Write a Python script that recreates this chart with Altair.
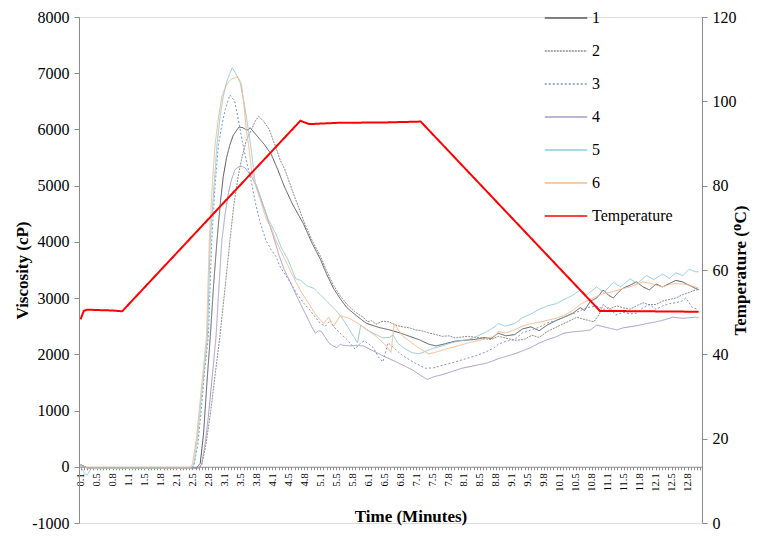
import json
import altair as alt
import pandas as pd

# ---------------- data ----------------
SERIES = ["1", "2", "3", "4", "5", "6"]
COLORS = ["#595959", "#8c8c8c", "#7a96c8", "#a99bc9", "#8fcbdc", "#f7b98a"]
DASHES = [[1, 0], [2, 1], [2, 2], [1, 0], [1, 0], [1, 0]]

S1 = [(0.133, 40), (0.27, -20), (2.55, -20), (2.63, 60), (2.70, 600), (2.77, 1500), (2.84, 2320),
      (2.91, 3250), (2.98, 4030), (3.05, 4700), (3.11, 5160), (3.18, 5500), (3.25, 5730), (3.32, 5900),
      (3.44, 6045), (3.52, 6030), (3.58, 6000), (3.63, 5990), (3.67, 6030), (3.75, 5950), (3.85, 5850),
      (3.97, 5730), (4.11, 5560), (4.25, 5280), (4.38, 4995), (4.55, 4680), (4.79, 4310), (4.95, 4000),
      (5.14, 3685), (5.27, 3420), (5.41, 3175), (5.55, 2990), (5.69, 2830), (5.9, 2680), (6.1, 2550),
      (6.35, 2480), (6.58, 2435), (6.8, 2380), (7.0, 2320), (7.2, 2260), (7.4, 2180), (7.55, 2150),
      (7.75, 2190), (7.95, 2235), (8.15, 2250), (8.36, 2265), (8.55, 2300), (8.7, 2280), (8.85, 2376),
      (9.0, 2330), (9.19, 2350), (9.35, 2450), (9.53, 2490), (9.7, 2420), (9.87, 2520), (10.05, 2600),
      (10.22, 2660), (10.4, 2730), (10.56, 2830), (10.65, 2780), (10.77, 2946), (10.9, 3000),
      (11.04, 3145), (11.15, 3050), (11.25, 3003), (11.35, 3100), (11.45, 3175), (11.6, 3230),
      (11.73, 3290), (11.87, 3200), (12.0, 3145), (12.14, 3250), (12.28, 3200), (12.42, 3260),
      (12.55, 3315), (12.69, 3290), (12.83, 3230), (12.96, 3175), (13.03, 3150)]

S2 = [(0.133, 20), (0.27, -20), (2.6, -20), (2.66, 30), (2.75, 400), (2.85, 1000), (2.95, 1700),
      (3.04, 2320), (3.15, 3200), (3.25, 4030), (3.33, 4650), (3.42, 5160), (3.5, 5500), (3.59, 5800),
      (3.70, 6000), (3.78, 6150), (3.85, 6232), (3.95, 6150), (4.07, 6000), (4.2, 5700), (4.3, 5450),
      (4.4, 5277), (4.6, 4800), (4.79, 4370), (4.95, 4050), (5.14, 3740), (5.27, 3480), (5.41, 3230),
      (5.55, 3040), (5.69, 2890), (5.85, 2760), (6.03, 2660), (6.12, 2580), (6.2, 2600), (6.3, 2540),
      (6.45, 2590), (6.58, 2576), (6.7, 2520), (6.85, 2490), (7.0, 2470), (7.13, 2434), (7.25, 2420),
      (7.4, 2380), (7.55, 2350), (7.68, 2320), (7.82, 2330), (7.95, 2290), (8.1, 2310), (8.23, 2320),
      (8.4, 2300), (8.55, 2280), (8.7, 2264), (8.85, 2320), (9.0, 2290), (9.2, 2250), (9.39, 2264),
      (9.55, 2340), (9.7, 2300), (9.87, 2405), (10.05, 2480), (10.22, 2547), (10.35, 2600),
      (10.49, 2661), (10.6, 2630), (10.75, 2600), (10.84, 2576), (10.95, 2700), (11.04, 2888),
      (11.15, 2800), (11.32, 2861), (11.45, 2830), (11.6, 2803), (11.75, 2870), (11.87, 2917),
      (12.0, 2880), (12.14, 2888), (12.28, 2950), (12.42, 2974), (12.55, 3000), (12.69, 3059),
      (12.83, 3100), (12.96, 3144), (13.03, 3150)]

S3 = [(0.133, 30), (0.27, -20), (2.45, -20), (2.5, 30), (2.58, 400), (2.65, 1000), (2.72, 1700),
      (2.80, 2320), (2.87, 4030), (2.94, 5000), (3.01, 5730), (3.08, 6070), (3.15, 6350), (3.25, 6614),
      (3.35, 6500), (3.43, 6150), (3.52, 5730), (3.61, 5380), (3.70, 5050), (3.78, 4700), (3.87, 4370),
      (4.0, 4030), (4.11, 3860), (4.21, 3740), (4.3, 3550), (4.42, 3400), (4.55, 3220), (4.66, 3060),
      (4.8, 2900), (4.93, 2776), (5.03, 2660), (5.14, 2547), (5.24, 2500), (5.34, 2605), (5.41, 2500),
      (5.48, 2434), (5.58, 2350), (5.69, 2264), (5.78, 2180), (5.86, 2093), (5.95, 2180), (6.05, 2240),
      (6.15, 2180), (6.24, 2121), (6.35, 1950), (6.44, 1865), (6.55, 2206), (6.7, 2090), (6.85, 1979),
      (7.0, 1900), (7.13, 1837), (7.33, 1752), (7.5, 1760), (7.7, 1810), (7.95, 1865), (8.2, 1930),
      (8.4, 1980), (8.57, 2035), (8.75, 2110), (8.85, 2180), (9.0, 2230), (9.19, 2264), (9.35, 2380),
      (9.53, 2434), (9.7, 2480), (9.87, 2560), (10.05, 2600), (10.22, 2661), (10.4, 2720),
      (10.56, 2776), (10.7, 2830), (10.9, 2861), (11.05, 2800), (11.17, 2832), (11.3, 2700),
      (11.45, 2747), (11.6, 2720), (11.73, 2730), (11.87, 2830), (12.0, 2888), (12.14, 2800),
      (12.28, 2861), (12.42, 2900), (12.55, 2917), (12.69, 2950), (12.76, 3003), (12.9, 2832),
      (13.0, 2803), (13.03, 2810)]

S4 = [(0.133, 20), (0.27, -20), (2.6, -20), (2.66, 50), (2.73, 400), (2.8, 900), (2.88, 1600),
      (2.96, 2320), (3.02, 3200), (3.08, 4030), (3.15, 4500), (3.22, 4880), (3.28, 5100), (3.35, 5277),
      (3.42, 5330), (3.49, 5345), (3.56, 5320), (3.63, 5250), (3.72, 5130), (3.80, 4990), (3.88, 4800),
      (3.97, 4590), (4.05, 4370), (4.14, 4140), (4.28, 3742), (4.38, 3514), (4.5, 3300), (4.66, 3003),
      (4.76, 2830), (4.86, 2661), (4.95, 2500), (5.03, 2376), (5.1, 2420), (5.16, 2405), (5.24, 2300),
      (5.31, 2206), (5.4, 2150), (5.48, 2121), (5.55, 2178), (5.62, 2160), (5.76, 2150), (5.9, 2160),
      (6.03, 2150), (6.15, 2100), (6.3, 2035), (6.5, 1950), (6.72, 1865), (6.9, 1790), (7.06, 1723),
      (7.2, 1640), (7.37, 1552), (7.5, 1600), (7.68, 1638), (7.9, 1700), (8.09, 1752), (8.3, 1790),
      (8.57, 1837), (8.7, 1870), (8.85, 1923), (9.0, 1960), (9.19, 2008), (9.35, 2060), (9.53, 2121),
      (9.7, 2200), (9.87, 2260), (10.05, 2310), (10.22, 2376), (10.4, 2400), (10.56, 2410),
      (10.77, 2434), (10.9, 2520), (11.1, 2480), (11.32, 2434), (11.45, 2470), (11.6, 2491),
      (11.75, 2510), (11.94, 2547), (12.1, 2570), (12.28, 2605), (12.49, 2661), (12.7, 2640),
      (12.96, 2661), (13.03, 2650)]

S5 = [(0.133, 30), (0.2, -100), (0.27, -150), (0.35, -30), (2.45, -20), (2.5, 50), (2.57, 500),
      (2.64, 1100), (2.71, 1700), (2.78, 2320), (2.84, 4030), (2.91, 4900), (2.98, 5730), (3.04, 6200),
      (3.11, 6585), (3.18, 6841), (3.24, 6980), (3.30, 7097), (3.38, 6980), (3.46, 6841), (3.55, 6450),
      (3.63, 6017), (3.70, 5600), (3.76, 5163), (3.78, 5050), (3.85, 4900), (3.94, 4652), (4.05, 4400),
      (4.21, 4140), (4.32, 3900), (4.46, 3685), (4.62, 3344), (4.73, 3315), (4.85, 3220), (5.0, 3173),
      (5.17, 3030), (5.34, 2888), (5.46, 2780), (5.58, 2661), (5.75, 2430), (5.91, 2206), (5.98, 2520),
      (6.08, 2450), (6.17, 2405), (6.3, 2350), (6.44, 2291), (6.58, 2300), (6.65, 2349), (6.75, 2200),
      (6.9, 2100), (7.05, 2030), (7.2, 2010), (7.35, 2060), (7.5, 2110), (7.68, 2150), (7.85, 2200),
      (8.05, 2240), (8.23, 2264), (8.4, 2320), (8.6, 2400), (8.78, 2491), (8.85, 2548), (9.0, 2500),
      (9.19, 2547), (9.35, 2650), (9.53, 2718), (9.7, 2800), (9.87, 2860), (10.05, 2900),
      (10.22, 2974), (10.4, 3050), (10.56, 3144), (10.7, 3060), (10.9, 3200), (11.05, 3100),
      (11.25, 3280), (11.4, 3200), (11.6, 3344), (11.75, 3260), (11.94, 3400), (12.1, 3330),
      (12.28, 3429), (12.42, 3350), (12.55, 3450), (12.7, 3400), (12.83, 3514), (12.96, 3470),
      (13.03, 3468)]

S6 = [(0.133, 30), (0.27, -20), (2.42, -20), (2.47, 50), (2.55, 500), (2.62, 1100), (2.69, 1700),
      (2.76, 2320), (2.82, 4030), (2.88, 5000), (2.94, 5730), (3.01, 6200), (3.08, 6585), (3.15, 6750),
      (3.22, 6841), (3.28, 6898), (3.35, 6920), (3.41, 6938), (3.49, 6812), (3.54, 6450), (3.59, 6017),
      (3.65, 5650), (3.70, 5277), (3.77, 5050), (3.83, 4879), (3.92, 4650), (4.0, 4424), (4.11, 4250),
      (4.21, 4026), (4.3, 3850), (4.4, 3685), (4.53, 3450), (4.66, 3230), (4.76, 3080), (4.86, 2946),
      (5.03, 2718), (5.2, 2547), (5.31, 2661), (5.41, 2491), (5.55, 2690), (5.66, 2660), (5.76, 2633),
      (5.9, 2560), (6.03, 2491), (6.17, 2400), (6.3, 2320), (6.42, 2230), (6.51, 2150), (6.61, 2035),
      (6.68, 2547), (6.77, 2430), (6.86, 2320), (7.0, 2230), (7.13, 2150), (7.27, 2070), (7.4, 2008),
      (7.55, 2040), (7.75, 2093), (8.0, 2150), (8.23, 2206), (8.5, 2260), (8.78, 2320), (8.85, 2405),
      (9.0, 2380), (9.19, 2434), (9.35, 2500), (9.53, 2547), (9.7, 2570), (9.87, 2605), (10.05, 2640),
      (10.22, 2690), (10.4, 2780), (10.56, 2888), (10.7, 2950), (10.9, 3031), (11.05, 3080),
      (11.25, 3116), (11.45, 3170), (11.6, 3202), (11.75, 3250), (11.87, 3287), (12.0, 3270),
      (12.14, 3230), (12.28, 3202), (12.42, 3240), (12.55, 3258), (12.7, 3250), (12.83, 3230),
      (12.96, 3200), (13.03, 3173)]

TEMP_T = [0.133, 0.2, 0.27, 0.5, 0.8, 1.0, 4.72, 4.9, 5.5, 6.5, 7.23, 10.97, 13.03]
TEMP_V = [48.3, 50.3, 50.6, 50.5, 50.4, 50.2, 95.4, 94.6, 94.9, 95.0, 95.2, 50.3, 50.1]

X_LABELS = ["0.1", "0.5", "0.8", "1.1", "1.5", "1.8", "2.1", "2.5", "2.8", "3.1", "3.5", "3.8",
            "4.1", "4.5", "4.8", "5.1", "5.5", "5.8", "6.1", "6.5", "6.8", "7.1", "7.5", "7.8",
            "8.1", "8.5", "8.8", "9.1", "9.5", "9.8", "10.1", "10.5", "10.8", "11.1", "11.5",
            "11.8", "12.1", "12.5", "12.8"]
T0 = 0.1333          # first reading (min)
STEP = 1 / 15        # one reading every 4 s
N_READINGS = 195

# ---------------- tables ----------------
rows = []
for name, pts in zip(SERIES, [S1, S2, S3, S4, S5, S6]):
    for i, (t, v) in enumerate(pts):
        rows.append({"series": name, "t": t, "v": v, "o": i})
visc_df = pd.DataFrame(rows)
temp_df = pd.DataFrame({"series": "Temperature", "t": TEMP_T, "T": TEMP_V, "o": range(len(TEMP_T))})

ALL = SERIES + ["Temperature"]
ALL_COLORS = COLORS + ["#ff0000"]
ALL_DASH = DASHES + [[1, 0]]

W, H = 623, 506
PAD = {"left": 71, "top": 9, "right": 57, "bottom": 9}
FONT = "Liberation Serif"
AX = "#8c8c8c"

tick_vals = [round(T0 + k * STEP, 5) for k in range(N_READINGS)]
label_expr = (f"(round((datum.value - {T0}) * 15) % 5 == 0) ? "
              f"{json.dumps(X_LABELS)}[round((datum.value - {T0}) * 3)] : ''")

x_enc = alt.X("t:Q",
              scale=alt.Scale(domain=[0.1, 13.1], nice=False, zero=False),
              axis=alt.Axis(values=tick_vals, tickCount=400, labelExpr=label_expr, labelAngle=270,
                            labelFontSize=10.5, labelFont=FONT, labelColor="black",
                            labelOverlap=False, labelFlush=False,
                            labelPadding=3, tickSize=3, tickColor=AX, domainColor=AX,
                            offset=-H / 9, grid=False, title="Time (Minutes)",
                            titleFont=FONT, titleFontSize=17, titleFontWeight="bold",
                            titlePadding=17, titleX=W / 2 + 20))

legend = alt.Legend(title=None, orient="none", legendX=465, legendY=-21,
                    symbolType="stroke", symbolSize=1800, symbolStrokeWidth=1.5,
                    labelFont=FONT, labelFontSize=16, labelColor="black",
                    rowPadding=3, labelOffset=4)

color_enc = alt.Color("series:N", scale=alt.Scale(domain=ALL, range=ALL_COLORS), legend=legend)
dash_enc = alt.StrokeDash("series:N", scale=alt.Scale(domain=ALL, range=ALL_DASH), legend=legend)

visc = alt.Chart(visc_df).mark_line(strokeWidth=1).encode(
    x=x_enc,
    y=alt.Y("v:Q", scale=alt.Scale(domain=[-1000, 8000], nice=False),
            axis=alt.Axis(values=list(range(-1000, 8001, 1000)),
                          labelExpr="datum.value < 0 ? '-' + abs(datum.value) : '' + datum.value",
                          labelFont=FONT, labelFontSize=16, labelColor="black",
                          tickSize=5, tickColor=AX, domainColor=AX, labelPadding=5,
                          grid=False, title="Viscosity (cP)", titleFont=FONT,
                          titleFontSize=17, titleFontWeight="bold", titlePadding=0)),
    color=color_enc,
    strokeDash=dash_enc,
    order="o:Q",
)

temp = alt.Chart(temp_df).mark_line(strokeWidth=2).encode(
    x=alt.X("t:Q", scale=alt.Scale(domain=[0.1, 13.1], nice=False, zero=False)),
    y=alt.Y("T:Q", scale=alt.Scale(domain=[0, 120], nice=False),
            axis=alt.Axis(orient="right", values=list(range(0, 121, 20)),
                          labelFont=FONT, labelFontSize=16, labelColor="black",
                          tickSize=5, tickColor=AX, domainColor=AX, labelPadding=5,
                          grid=False, title="Temperature (ᴼC)", titleAngle=270,
                          titleFont=FONT, titleFontSize=17, titleFontWeight="bold",
                          titlePadding=13)),
    color=color_enc,
    strokeDash=dash_enc,
    order="o:Q",
)

chart = alt.layer(visc, temp).resolve_scale(y="independent").properties(
    width=W, height=H, padding=PAD, autosize=alt.AutoSizeParams(type="none")
).configure_view(stroke=None).configure(font=FONT)

chart.save("out.html", embed_options={"renderer": "svg", "actions": False})
